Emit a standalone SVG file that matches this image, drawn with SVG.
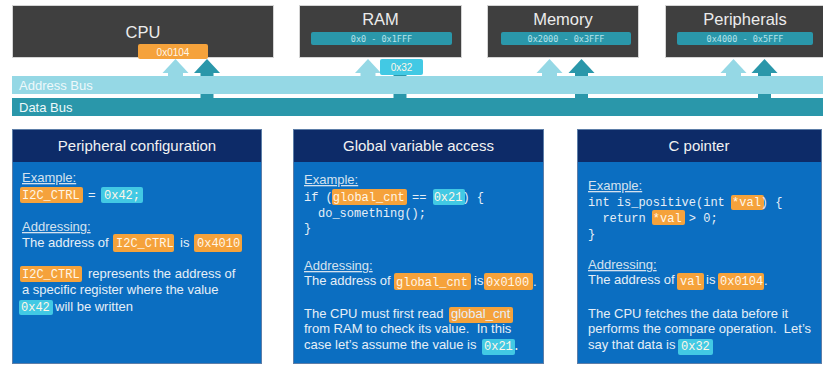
<svg xmlns="http://www.w3.org/2000/svg" width="823" height="368" viewBox="0 0 823 368">
  <style>
    .unit { fill: #3f3f3f; stroke: #d4d4d4; stroke-width: 1; }
    .unit-name { font-family: "Liberation Sans", Arial, sans-serif; font-size: 16.5px; fill: #ececec; text-anchor: middle; }
    .range { fill: #2a97aa; }
    .range-txt { font-family: "DejaVu Sans Mono", "Liberation Mono", monospace; font-size: 8.5px; fill: #b9e3ea; text-anchor: middle; }
    .abus { fill: #95d8e5; }
    .dbus { fill: #2a97aa; }
    .bus-txt { font-family: "Liberation Sans", Arial, sans-serif; font-size: 13px; fill: #eef9fb; }
    .orange { fill: #f5a23b; }
    .cyan { fill: #42c9e4; }
    .panel { fill: #0b6ec1; stroke: #5d7ea8; stroke-width: 1; }
    .panel-head { fill: #0d2b68; }
    .panel-title { font-family: "Liberation Sans", Arial, sans-serif; font-size: 15px; fill: #f2f2f2; text-anchor: middle; }
    .txt { font-family: "Liberation Sans", Arial, sans-serif; font-size: 13px; fill: #e6eef7; }
    .lbl { font-family: "Liberation Sans", Arial, sans-serif; font-size: 13px; fill: #d5e2ef; text-decoration: underline; }
    .code { font-family: "Liberation Mono", "DejaVu Sans Mono", monospace; font-size: 12px; fill: #e6eef7; }
    .hl { font-family: "Liberation Mono", "DejaVu Sans Mono", monospace; font-size: 12px; fill: #fff6e8; }
    .tag { font-family: "Liberation Sans", Arial, sans-serif; font-size: 10px; fill: #fff6e8; text-anchor: middle; }
  </style>

  <rect width="823" height="368" fill="#ffffff"/>

  <!-- bus connectors: arrows drawn first so the address bus covers the data shafts -->
  <g id="connectors">
    <g fill="#95d8e5">
      <polygon points="162.5,73 175.5,59 188.5,73"/><rect x="168" y="72" width="15" height="5"/>
      <polygon points="355,73 368,59 381,73"/><rect x="360.5" y="72" width="15" height="5"/>
      <polygon points="536.5,73 549.5,59 562.5,73"/><rect x="542" y="72" width="15" height="5"/>
      <polygon points="720.5,73 733.5,59 746.5,73"/><rect x="726" y="72" width="15" height="5"/>
    </g>
    <g fill="#2a97aa">
      <polygon points="194,73 207,59 220,73"/><rect x="200.5" y="72" width="13" height="27"/>
      <polygon points="387,73 400,59 413,73"/><rect x="393.5" y="72" width="13" height="27"/>
      <polygon points="568.5,73 581.5,59 594.5,73"/><rect x="575" y="72" width="13" height="27"/>
      <polygon points="751.5,73 764.5,59 777.5,73"/><rect x="758" y="72" width="13" height="27"/>
    </g>
    <g id="address-bus">
      <rect class="abus" x="12" y="76" width="811" height="18"/>
      <text class="bus-txt" x="19" y="90">Address Bus</text>
    </g>
    <g id="data-bus">
      <rect class="dbus" x="12" y="98" width="811" height="18"/>
      <text class="bus-txt" x="19" y="112">Data Bus</text>
    </g>
  </g>

  <!-- units on the bus -->
  <g id="cpu">
    <rect class="unit" x="12.5" y="5.5" width="261" height="52"/>
    <text class="unit-name" x="143" y="38">CPU</text>
    <rect class="orange" x="138" y="44" width="70" height="15" rx="2"/>
    <text class="tag" x="173" y="55.5">0x0104</text>
  </g>

  <g id="ram">
    <rect class="unit" x="299.5" y="5.5" width="162" height="52"/>
    <text class="unit-name" x="380.5" y="25">RAM</text>
    <rect class="range" x="311" y="32" width="141" height="13" rx="2"/>
    <text class="range-txt" x="381.5" y="41.5">0x0 - 0x1FFF</text>
    <rect class="cyan" x="380" y="59" width="43" height="16" rx="2"/>
    <text class="tag" x="401.5" y="71" font-size="10.5">0x32</text>
  </g>

  <g id="memory">
    <rect class="unit" x="487.5" y="5.5" width="151" height="52"/>
    <text class="unit-name" x="563" y="25">Memory</text>
    <rect class="range" x="501" y="32" width="130" height="13" rx="2"/>
    <text class="range-txt" x="566" y="41.5">0x2000 - 0x3FFF</text>
  </g>

  <g id="peripherals">
    <rect class="unit" x="665.5" y="5.5" width="165" height="52"/>
    <text class="unit-name" x="745" y="25">Peripherals</text>
    <rect class="range" x="677" y="32" width="136" height="13" rx="2"/>
    <text class="range-txt" x="745" y="41.5">0x4000 - 0x5FFF</text>
  </g>

  <!-- panel: peripheral configuration -->
  <g id="panel-peripheral">
    <rect class="panel" x="12.5" y="129.5" width="249" height="234"/>
    <rect class="panel-head" x="13" y="130" width="248" height="32"/>
    <text class="panel-title" x="137" y="151">Peripheral configuration</text>
    <text class="lbl" x="22" y="182">Example:</text>
    <rect class="orange" x="20" y="187" width="63" height="16" rx="2"/>
    <text class="hl" x="22" y="199">I2C_CTRL</text>
    <text class="txt" x="88" y="199">=</text>
    <rect class="cyan" x="101" y="187" width="42" height="16" rx="2"/>
    <text class="hl" x="104" y="199">0x42;</text>
    <text class="lbl" x="22" y="231">Addressing:</text>
    <text class="txt" x="22" y="247">The address of</text>
    <rect class="orange" x="113" y="234" width="61" height="18" rx="2"/>
    <text class="hl" x="116" y="247">I2C_CTRL</text>
    <text class="txt" x="180" y="247">is</text>
    <rect class="orange" x="194" y="234" width="48" height="18" rx="2"/>
    <text class="hl" x="197" y="247">0x4010</text>
    <rect class="orange" x="20" y="266" width="62" height="16" rx="2"/>
    <text class="hl" x="22" y="278">I2C_CTRL</text>
    <text class="txt" x="88" y="278">represents the address of</text>
    <text class="txt" x="22" y="294">a specific register where the value</text>
    <rect class="cyan" x="19" y="300" width="34" height="15" rx="2"/>
    <text class="hl" x="21" y="311">0x42</text>
    <text class="txt" x="55" y="311">will be written</text>
  </g>

  <!-- panel: global variable access -->
  <g id="panel-global">
    <rect class="panel" x="293.5" y="129.5" width="250" height="234"/>
    <rect class="panel-head" x="294" y="130" width="249" height="32"/>
    <text class="panel-title" x="418.5" y="151">Global variable access</text>
    <text class="lbl" x="304" y="184">Example:</text>
    <rect class="orange" x="332" y="189" width="75" height="16" rx="2"/>
    <rect class="cyan" x="433" y="189" width="32" height="16" rx="2"/>
    <text class="code" x="304" y="201" xml:space="preserve">if (<tspan fill="#fff6e8">global_cnt</tspan> == <tspan fill="#fff6e8">0x21</tspan>) {</text>
    <text class="code" x="318" y="217">do_something();</text>
    <text class="code" x="304" y="232">}</text>
    <text class="lbl" x="304" y="270">Addressing:</text>
    <text class="txt" x="304" y="285">The address of</text>
    <rect class="orange" x="394" y="273" width="77" height="17" rx="2"/>
    <text class="hl" x="396" y="286">global_cnt</text>
    <text class="txt" x="474" y="285">is</text>
    <rect class="orange" x="484" y="273" width="49" height="17" rx="2"/>
    <text class="hl" x="486" y="286">0x0100</text>
    <text class="txt" x="533" y="286">.</text>
    <text class="txt" x="304" y="318">The CPU must first read</text>
    <rect class="orange" x="449" y="307" width="64" height="16" rx="2"/>
    <text class="txt" x="451" y="318" fill="#fff6e8">global_cnt</text>
    <text class="txt" x="304" y="333" xml:space="preserve">from RAM to check its value.  In this</text>
    <text class="txt" x="304" y="349">case let’s assume the value is</text>
    <rect class="cyan" x="482" y="339" width="33" height="16" rx="2"/>
    <text class="hl" x="484" y="350">0x21.</text>
  </g>

  <!-- panel: C pointer -->
  <g id="panel-pointer">
    <rect class="panel" x="577.5" y="129.5" width="244" height="234"/>
    <rect class="panel-head" x="578" y="130" width="243" height="32"/>
    <text class="panel-title" x="699" y="151">C pointer</text>
    <text class="lbl" x="588" y="190">Example:</text>
    <rect class="orange" x="731" y="195" width="33" height="15" rx="2"/>
    <text class="code" x="588" y="206" xml:space="preserve">int is_positive(int <tspan fill="#fff6e8">*val</tspan>) {</text>
    <rect class="orange" x="652" y="210" width="33" height="15" rx="2"/>
    <text class="code" x="588" y="222" xml:space="preserve">  return <tspan fill="#fff6e8">*val</tspan> &gt; 0;</text>
    <text class="code" x="588" y="238">}</text>
    <text class="lbl" x="588" y="269">Addressing:</text>
    <text class="txt" x="588" y="284">The address of</text>
    <rect class="orange" x="677" y="273" width="27" height="17" rx="2"/>
    <text class="hl" x="680" y="285">val</text>
    <text class="txt" x="706" y="284">is</text>
    <rect class="orange" x="718" y="273" width="46" height="17" rx="2"/>
    <text class="hl" x="720" y="285">0x0104</text>
    <text class="txt" x="764" y="285">.</text>
    <text class="txt" x="588" y="318">The CPU fetches the data before it</text>
    <text class="txt" x="588" y="333" xml:space="preserve">performs the compare operation.  Let’s</text>
    <text class="txt" x="588" y="349">say that data is</text>
    <rect class="cyan" x="678" y="339" width="35" height="16" rx="2"/>
    <text class="hl" x="681" y="350">0x32</text>
  </g>
</svg>
